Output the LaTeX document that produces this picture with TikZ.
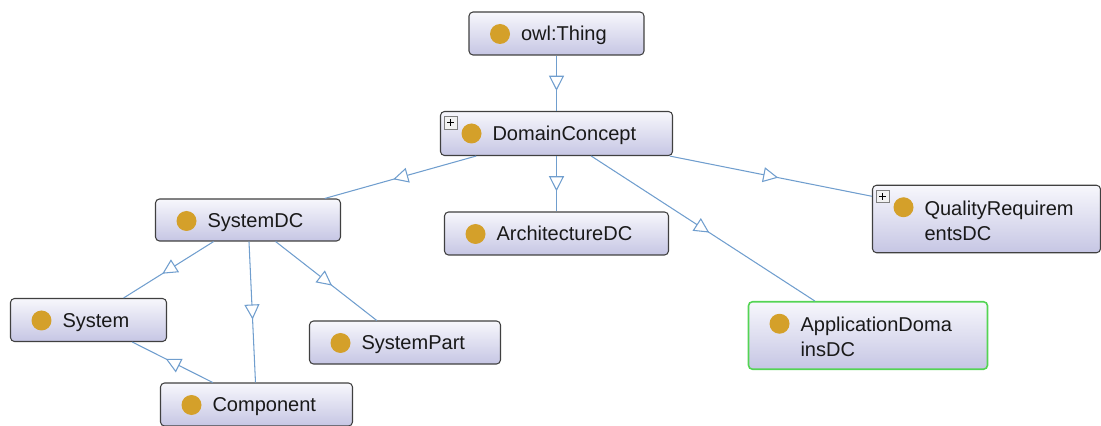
\documentclass[tikz,border=0pt]{standalone}
\usepackage{fontspec}
\setmainfont{Liberation Sans}
\usetikzlibrary{arrows.meta,decorations.markings}
\definecolor{clsgold}{RGB}{212,160,42}
\definecolor{clsborder}{RGB}{64,64,64}
\definecolor{clstop}{RGB}{247,247,252}
\definecolor{clsbottom}{RGB}{198,198,228}
\definecolor{isablue}{RGB}{112,158,206}
\definecolor{selgreen}{RGB}{84,212,84}
\tikzstyle{cls} = [rectangle, rounded corners=0.08cm, draw=clsborder, line width=0.6pt, top color=clstop, bottom color=clsbottom, minimum height=0.86cm, inner xsep=0.1cm, inner ysep=0pt, text height=0.375cm, text depth=0.085cm, align=left, text=black!90, font=\fontsize{11.4}{14.2}\selectfont, execute at begin node={\leftskip=0.94cm}, path picture={\fill[clsgold] ([xshift=0.62cm,yshift=-0.44cm]path picture bounding box.north west) circle (0.2cm);}]
\tikzstyle{clsplus} = [cls, path picture={\fill[clsgold] ([xshift=0.62cm,yshift=-0.44cm]path picture bounding box.north west) circle (0.2cm);
  \draw[sharp corners, gray, line width=0.5pt, fill=black!5] ([xshift=0.08cm,yshift=-0.1cm]path picture bounding box.north west) rectangle ++(0.25,-0.25);
  \draw[sharp corners, black, line width=0.8pt] ([xshift=0.135cm,yshift=-0.225cm]path picture bounding box.north west) -- ++(0.14,0) ([xshift=0.205cm,yshift=-0.155cm]path picture bounding box.north west) -- ++(0,-0.14);}]
\tikzstyle{twoline} = [minimum height=1.35cm, text height=0.44cm, text depth=0.585cm]
\tikzstyle{isa} = [draw=isablue, line width=0.6pt, postaction={decorate}, decoration={markings, mark=at position 0.5 with {\pgftransformxshift{0.15cm}\arrow{Triangle[length=0.3cm,width=0.3cm,fill=white]}}}]

\begin{document}
\begin{tikzpicture}[node distance=2cm]
		\useasboundingbox (0,0) rectangle (22.02,-8.52);
		\node[cls,text width=3.3cm](thing) at (11.13,-0.67){owl:Thing};
		\node[clsplus,text width=4.44cm,minimum height=0.88cm,below of=thing](dc){DomainConcept};
		\node[cls,text width=4.28cm,below of=dc](arch){ArchitectureDC};
		\node[cls,text width=3.5cm,minimum height=0.84cm,left of=arch,xshift=-4.17cm,yshift=0.27cm](sysdc){SystemDC};
		\node[clsplus,twoline,text width=4.36cm,right of=arch,xshift=6.6cm,yshift=0.29cm](qual){QualityRequirem\\entsDC};
		\node[cls,text width=2.92cm,below of=sysdc,xshift=-3.19cm](sys){System};
		\node[cls,text width=3.62cm,below of=sysdc,xshift=3.14cm,yshift=-0.45cm](part){SystemPart};
		\node[cls,text width=3.64cm,below of=sys,xshift=3.36cm,yshift=0.31cm](comp){Component};
		\node[cls,twoline,draw=selgreen,line width=0.9pt,text width=4.58cm,below of=qual,xshift=-2.37cm,yshift=-0.33cm](app){ApplicationDoma\\insDC};

		\draw[isa] (thing)--(dc);
		\draw[isa] (dc)--(sysdc);
		\draw[isa] (dc)--(arch);
		\draw[isa] (dc)--(app);
		\draw[isa] (dc)--(qual);
		\draw[isa] (sysdc)--(sys);
		\draw[isa] (sysdc)--(comp);
		\draw[isa] (sysdc)--(part);
		\draw[isa] (comp)--(sys);
\end{tikzpicture}
\end{document}
